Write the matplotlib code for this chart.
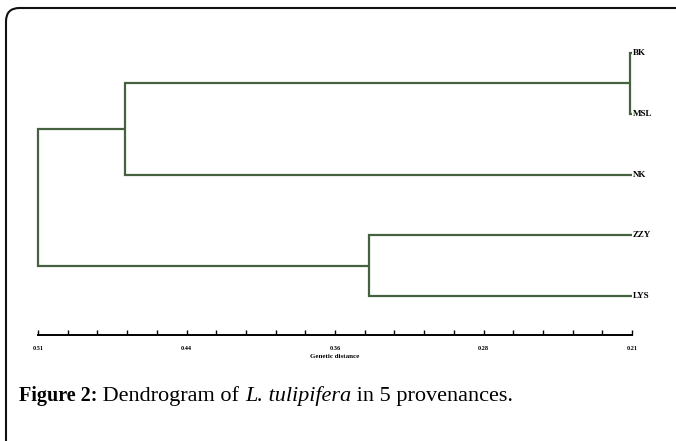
import matplotlib.pyplot as plt
from matplotlib.patches import FancyBboxPatch

# Leaves (top to bottom) and merge heights (genetic distance)
leaves = ['BK', 'MSL', 'NK', 'ZZY', 'LYS']
leaf_dist = [0.21, 0.21, 0.21, 0.21, 0.21]
# merges: (left child, right child, distance); children >= 5 refer to earlier merges
merges = [(0, 1, 0.211), (5, 2, 0.466), (3, 4, 0.343), (6, 7, 0.51)]

tick_vals = [0.51, 0.435, 0.36, 0.285, 0.21]
tick_labels = ['0.51', '0.44', '0.36', '0.28', '0.21']
minor_step = 0.015

line_color = '#46613f'

fig = plt.figure(figsize=(6.76, 4.41), dpi=100)

# outer frame (only top and left edges visible)
frame = FancyBboxPatch((6 / 676, -0.1), 1.2, 1 - 8 / 441 + 0.1,
                       boxstyle='round,pad=0,rounding_size=0.02',
                       transform=fig.transFigure, fill=False,
                       edgecolor='#111111', linewidth=1.5, mutation_aspect=676 / 441)
fig.patches.append(frame)

ax = fig.add_axes([38 / 676, 1 - 335 / 441, (632 - 38) / 676, 295 / 441])
ax.set_xlim(0.51, 0.21)
ax.set_ylim(4.64, -0.214)

# build node positions
pos = {i: (leaf_dist[i], float(i)) for i in range(len(leaves))}
for k, (a, b, d) in enumerate(merges):
    xa, ya = pos[a]
    xb, yb = pos[b]
    ax.plot([xa, d, d, xb], [ya, ya, yb, yb], color=line_color, lw=1.6,
            solid_joinstyle='miter', solid_capstyle='butt', clip_on=False)
    pos[len(leaves) + k] = (d, (ya + yb) / 2)

for i, name in enumerate(leaves):
    ax.text(0.2095, i, name, ha='left', va='center', fontsize=6.5,
            fontweight='bold', family='Liberation Serif')

for s in ['top', 'right', 'left']:
    ax.spines[s].set_visible(False)
ax.spines['bottom'].set_linewidth(1.4)
ax.set_yticks([])
ax.set_xticks(tick_vals)
ax.set_xticklabels(tick_labels, fontsize=4.5, fontweight='bold', family='Liberation Serif')
minor = [0.51 - minor_step * i for i in range(21)]
ax.set_xticks(minor, minor=True)
ax.tick_params(axis='x', which='both', direction='in', length=3.5, width=1, pad=8)
ax.set_xlabel('Genetic distance', fontsize=5, fontweight='bold',
              family='Liberation Serif', labelpad=2)

# caption, pieces placed one after another on a common baseline
pieces = [('Figure 2:', dict(fontweight='bold', fontsize=14.5)),
          (' Dendrogram of ', dict(fontsize=16)),
          ('L. tulipifera', dict(style='italic', fontsize=16)),
          (' in 5 provenances.', dict(fontsize=16))]
renderer = fig.canvas.get_renderer()
x = 19 / 676
base_y = 1 - 401 / 441
for txt, kw in pieces:
    t = fig.text(x, base_y, txt, va='baseline', ha='left', family='Liberation Serif', **kw)
    bb = t.get_window_extent(renderer)
    x = fig.transFigure.inverted().transform((bb.x1, 0))[0]

fig.savefig('out.png', dpi=100)
